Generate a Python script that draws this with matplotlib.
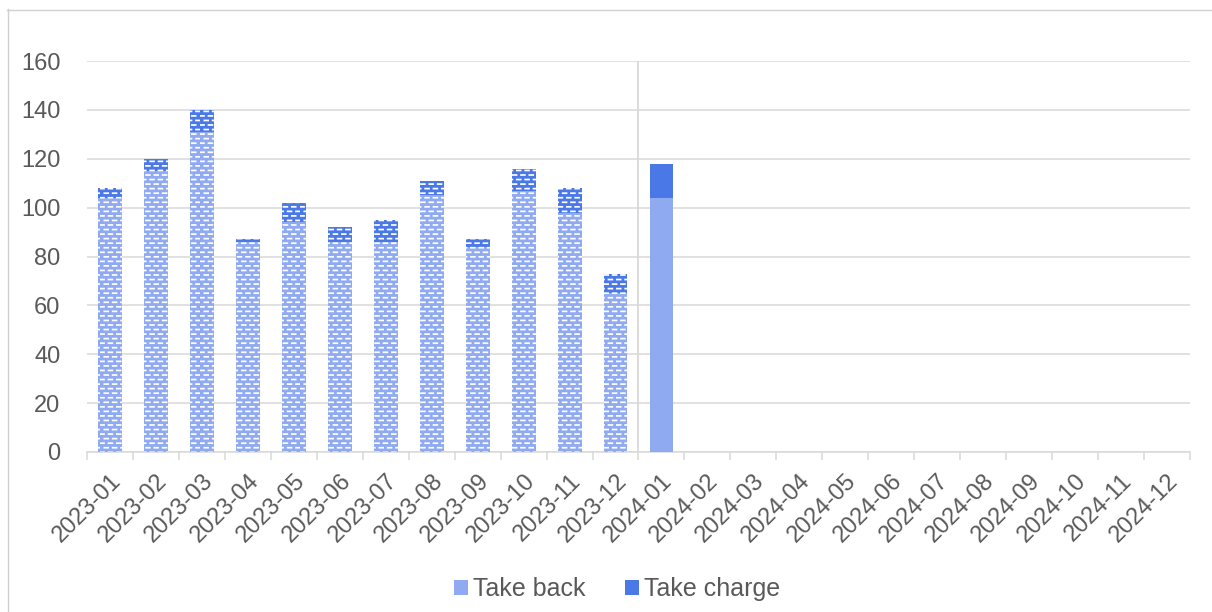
import numpy as np
import matplotlib
matplotlib.use("agg")
import matplotlib.pyplot as plt
from matplotlib import hatch as mhatch
from matplotlib.path import Path
from matplotlib.lines import Line2D

months = ['2023-%02d' % m for m in range(1, 13)] + ['2024-%02d' % m for m in range(1, 13)]
take_back = [104, 115, 131, 86, 94, 86, 86, 105, 84, 107, 98, 65,
             104, 0, 0, 0, 0, 0, 0, 0, 0, 0, 0, 0]
take_charge = [4, 5, 9, 1, 8, 6, 9, 6, 3, 9, 10, 8,
               14, 0, 0, 0, 0, 0, 0, 0, 0, 0, 0, 0]
n_hatched = 12  # 2023 bars are drawn with the dashed pattern

LIGHT = '#8faaf0'
DARK = '#4a78e6'
GRID = '#d9d9d9'
TEXT = '#595959'


class DashedHatch(mhatch.HatchPatternBase):
    '''Excel-like "dashed horizontal" pattern, replaces the '-' hatch'''
    def __init__(self, hatch, density):
        self.rows = 22 if '-' in hatch else 0
        self.cols = 12
        self.num_vertices = self.rows * self.cols * 2

    def set_vertices_and_codes(self, vertices, codes):
        k = 0
        for i in range(self.rows):
            y = (i + 0.5) / self.rows
            off = 0.5 if i % 2 else 0.0
            for j in range(self.cols):
                x0 = (j + off + 0.02) / self.cols
                x1 = (j + off + 0.48) / self.cols
                vertices[k] = (x0, y)
                vertices[k + 1] = (x1, y)
                codes[k] = Path.MOVETO
                codes[k + 1] = Path.LINETO
                k += 2


mhatch._hatch_types[0] = DashedHatch

plt.rcParams['font.family'] = ['Liberation Sans', 'DejaVu Sans']
plt.rcParams['hatch.linewidth'] = 1.25

fig = plt.figure(figsize=(12.12, 6.12), dpi=100)
ax = fig.add_axes([87 / 1212, 1 - 452 / 612, (1190 - 87) / 1212, (452 - 61) / 612])

x = np.arange(len(months))
tb = np.array(take_back)
tc = np.array(take_charge)
w = 0.52

h = slice(0, n_hatched)
s = slice(n_hatched, None)
ax.bar(x[h], tb[h], w, color=LIGHT, edgecolor='white', linewidth=0, hatch='-', zorder=3)
ax.bar(x[h], tc[h], w, bottom=tb[h], color=DARK, edgecolor='white', linewidth=0, hatch='-', zorder=3)
ax.bar(x[s], tb[s], w, color=LIGHT, linewidth=0, zorder=3, label='Take back')
ax.bar(x[s], tc[s], w, bottom=tb[s], color=DARK, linewidth=0, zorder=3, label='Take charge')

ax.set_xlim(-0.5, len(months) - 0.5)
ax.set_ylim(0, 160)
ax.set_yticks(range(0, 161, 20))
ax.yaxis.grid(True, color=GRID, linewidth=1.1, zorder=0)
ax.axvline(n_hatched - 0.5, color=GRID, linewidth=1.3, zorder=1)

for side in ['left', 'right', 'top']:
    ax.spines[side].set_visible(False)
ax.spines['bottom'].set_color(GRID)
ax.spines['bottom'].set_linewidth(1.1)

ax.set_xticks(x)
ax.set_xticklabels(months, rotation=45, ha='right', rotation_mode='anchor')
ax.set_xticks(np.arange(-0.5, len(months)), minor=True)
ax.tick_params(axis='x', which='major', length=0, pad=13, labelsize=17, colors=TEXT)
ax.tick_params(axis='x', which='minor', length=6, width=1.1, color=GRID)
ax.tick_params(axis='y', length=0, pad=19, labelsize=17, colors=TEXT)

fig.legend(loc='center', bbox_to_anchor=(0.509, 1 - 589 / 612), ncol=2, frameon=False,
           fontsize=18, handlelength=0.55, handleheight=0.55, handletextpad=0.2,
           columnspacing=1.6, labelcolor=TEXT)

# chart area border (only top and left edges are visible in the frame)
fig.add_artist(Line2D([7.5 / 1212, 7.5 / 1212], [0, 1 - 9 / 612], transform=fig.transFigure,
                      color='#d0d0d0', linewidth=1))
fig.add_artist(Line2D([7 / 1212, 1], [1 - 9.5 / 612, 1 - 9.5 / 612], transform=fig.transFigure,
                      color='#d0d0d0', linewidth=1))

plt.savefig('out.png', dpi=100)
